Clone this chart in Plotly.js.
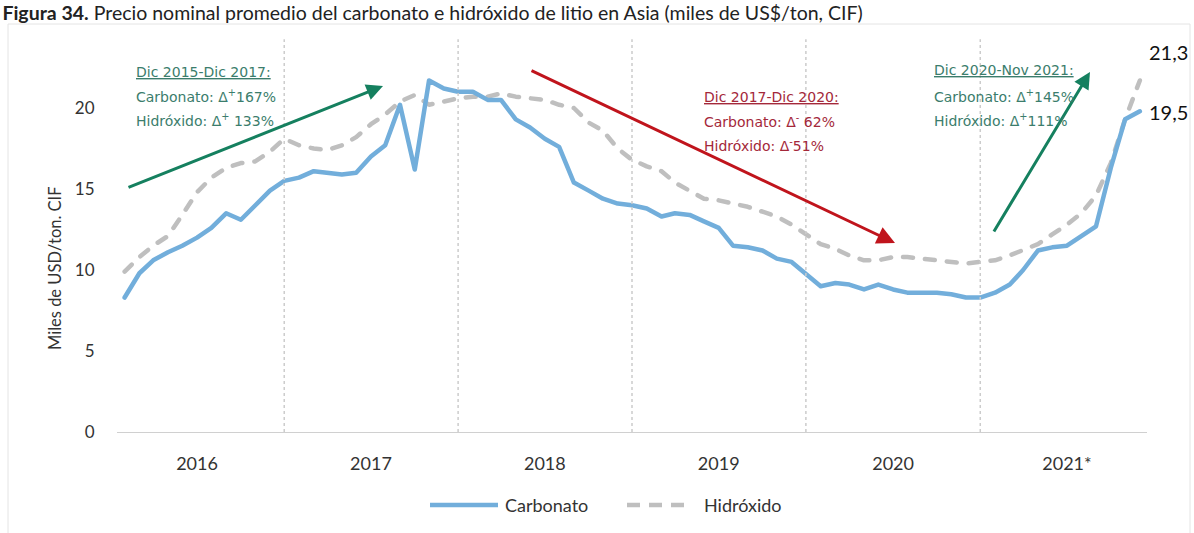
<!DOCTYPE html>
<html>
<head>
<meta charset="utf-8">
<script src="https://cdn.plot.ly/plotly-3.0.1.min.js"></script>
<style>
  html, body { margin: 0; padding: 0; background: #ffffff; }
  #chart { width: 1194px; height: 533px; }
  .scatterlayer .js-line { stroke-linecap: round; stroke-linejoin: round; }
  .shapelayer path.legend-like { stroke-linecap: round; }
</style>
</head>
<body>
<div id="chart"></div>
<script>
// ---- Data ----
// Monthly observations, Jan 2016 .. Nov 2021
const startYear = 2016;
const nMonths = 71;
const meses = [];
for (let i = 0; i < nMonths; i++) {
  const y = startYear + Math.floor(i / 12);
  const m = (i % 12) + 1;
  meses.push(y + '-' + String(m).padStart(2, '0') + '-01');
}

const carbonato = [
  8.3, 9.8, 10.6, 11.1, 11.5, 12.0, 12.6, 13.5, 13.1, 14.0, 14.9, 15.5,
  15.7, 16.1, 16.0, 15.9, 16.0, 17.0, 17.7, 20.2, 16.2, 21.7, 21.2, 21.0,
  21.0, 20.5, 20.5, 19.3, 18.8, 18.1, 17.6, 15.4, 14.9, 14.4, 14.1, 14.0,
  13.8, 13.3, 13.5, 13.4, 13.0, 12.6, 11.5, 11.4, 11.2, 10.7, 10.5, 9.8,
  9.0, 9.2, 9.1, 8.8, 9.1, 8.8, 8.6, 8.6, 8.6, 8.5, 8.3, 8.3,
  8.6, 9.1, 10.0, 11.2, 11.4, 11.5, 12.1, 12.7, 16.3, 19.3, 19.8
];

const hidroxido = [
  9.9, 10.8, 11.5, 12.1, 13.4, 14.8, 15.7, 16.3, 16.6, 16.7, 17.3, 18.1,
  17.7, 17.5, 17.4, 17.7, 18.2, 19.0, 19.6, 20.4, 20.8, 20.2, 20.4, 20.6,
  20.7, 20.7, 20.9, 20.7, 20.6, 20.5, 20.2, 20.0, 19.1, 18.6, 17.5, 16.8,
  16.4, 16.1, 15.4, 14.9, 14.4, 14.3, 14.1, 13.9, 13.6, 13.3, 12.8, 12.2,
  11.6, 11.3, 10.9, 10.6, 10.6, 10.8, 10.8, 10.7, 10.6, 10.5, 10.4, 10.5,
  10.6, 10.9, 11.2, 11.6, 12.2, 12.8, 13.5, 14.6, 16.6, 19.3, 21.7
];

const seriesNames = ['Carbonato', 'Hidróxido'];
const yearTickVals = ['2016-06-01', '2017-06-01', '2018-06-01', '2019-06-01', '2020-06-01', '2021-06-01'];
const yearTickText = ['2016', '2017', '2018', '2019', '2020', '2021*'];
const yearDividers = ['2016-12-01', '2017-12-01', '2018-12-01', '2019-12-01', '2020-12-01'];
const endLabels = ['21,3', '19,5'];

// ---- Layout helpers (pixel -> paper) ----
const W = 1194, H = 533;
const M = { l: 117, r: 47, t: 27, b: 101 };
const PW = W - M.l - M.r, PH = H - M.t - M.b;
const xp = px => (px - M.l) / PW;
const yp = py => (H - M.b - py) / PH;

const blue = '#72aedb';
const gray = '#bfbfbf';
const grayDash = '10px,12px';
const greenTxt = '#3b7d6c';
const greenArr = '#15805f';
const redTxt = '#a4283a';
const redArr = '#c0141c';
const annFont = (c) => ({ family: 'DejaVu Sans, sans-serif', size: 14, color: c });

function txt(text, px, py, color) {
  return { xref: 'paper', yref: 'paper', x: xp(px), y: yp(py), xanchor: 'left', yanchor: 'middle',
           text: text, showarrow: false, font: annFont(color) };
}
function arrow(x0, y0, x1, y1, color, w, size) {
  return { xref: 'paper', yref: 'paper', x: xp(x1), y: yp(y1), axref: 'pixel', ayref: 'pixel',
           ax: x0 - x1, ay: y0 - y1, text: '', showarrow: true, arrowhead: 2, arrowsize: size,
           arrowwidth: w, arrowcolor: color };
}

const traces = [
  {
    x: meses, y: hidroxido, name: seriesNames[1], type: 'scatter', mode: 'lines',
    line: { color: gray, width: 4.5, dash: grayDash }
  },
  {
    x: meses, y: carbonato, name: seriesNames[0], type: 'scatter', mode: 'lines',
    line: { color: blue, width: 4.5 }
  }
];

const shapes = yearDividers.map(d => ({
  type: 'line', xref: 'x', yref: 'paper', x0: d, x1: d, y0: 0, y1: 0.97,
  line: { color: '#cccccc', width: 1.5, dash: 'dot' }
}));
shapes.push({
  type: 'rect', xref: 'paper', yref: 'paper', x0: xp(8), x1: xp(1190), y0: yp(545), y1: yp(24),
  line: { color: '#e4e4e4', width: 1 }, layer: 'below'
});
// legend keys
shapes.push({ type: 'line', xref: 'paper', yref: 'paper', x0: xp(430), x1: xp(498), y0: yp(505), y1: yp(505),
  line: { color: blue, width: 4.5 } });
shapes.push({ type: 'line', xref: 'paper', yref: 'paper', x0: xp(627), x1: xp(690), y0: yp(505), y1: yp(505),
  line: { color: gray, width: 4.5, dash: '13px,9px' } });

const legFont = { family: 'Lato, sans-serif', size: 18, color: '#333' };
const annotations = [
  arrow(127, 188, 383, 86, greenArr, 3, 1.1),
  arrow(530, 70, 895, 243, redArr, 3, 1.2),
  arrow(993, 233, 1090, 72, greenArr, 3, 1.1),
  txt('<u>Dic 2015-Dic 2017:</u>', 134, 72, greenTxt),
  txt('Carbonato: Δ<sup>+</sup>167%', 134, 96, greenTxt),
  txt('Hidróxido: Δ<sup>+</sup> 133%', 134, 120, greenTxt),
  txt('<u>Dic 2017-Dic 2020:</u>', 702, 97, redTxt),
  txt('Carbonato: Δ<sup>-</sup> 62%', 702, 121, redTxt),
  txt('Hidróxido: Δ<sup>-</sup>51%', 702, 145, redTxt),
  txt('<u>Dic 2020-Nov 2021:</u>', 932, 70, greenTxt),
  txt('Carbonato: Δ<sup>+</sup>145%', 932, 96, greenTxt),
  txt('Hidróxido: Δ<sup>+</sup>111%', 932, 120, greenTxt),
  { xref: 'paper', yref: 'paper', x: xp(1168), y: yp(52), text: endLabels[0], showarrow: false,
    xanchor: 'center', yanchor: 'middle', font: { family: 'Lato, sans-serif', size: 20, color: '#111' } },
  { xref: 'paper', yref: 'paper', x: xp(1168), y: yp(112), text: endLabels[1], showarrow: false,
    xanchor: 'center', yanchor: 'middle', font: { family: 'Lato, sans-serif', size: 20, color: '#111' } },
  { xref: 'paper', yref: 'paper', x: xp(55), y: yp(268), text: 'Miles de USD/ton. CIF', showarrow: false,
    textangle: -90, xanchor: 'center', yanchor: 'middle', font: { family: 'Lato, sans-serif', size: 16.5, color: '#333' } },
  { xref: 'paper', yref: 'paper', x: xp(503), y: yp(505), text: seriesNames[0], showarrow: false,
    xanchor: 'left', yanchor: 'middle', font: legFont },
  { xref: 'paper', yref: 'paper', x: xp(702), y: yp(505), text: seriesNames[1], showarrow: false,
    xanchor: 'left', yanchor: 'middle', font: legFont }
];

const layout = {
  width: W, height: H,
  margin: M,
  paper_bgcolor: '#ffffff', plot_bgcolor: '#ffffff',
  font: { family: 'Lato, sans-serif', color: '#333333' },
  title: {
    text: '<b>Figura 34.</b> Precio nominal promedio del carbonato e hidróxido de litio en Asia (miles de US$/ton, CIF)',
    font: { family: 'Lato, sans-serif', size: 19.5, color: '#222' },
    xref: 'container', yref: 'container', x: 0.002, xanchor: 'left', y: 1 - 13 / H, yanchor: 'middle'
  },
  showlegend: false,
  xaxis: {
    type: 'date',
    range: ['2015-12-16', '2021-11-16'],
    tickvals: yearTickVals, ticktext: yearTickText,
    ticks: 'outside', ticklen: 15, tickcolor: 'rgba(0,0,0,0)',
    tickfont: { family: 'Lato, sans-serif', size: 18, color: '#333' },
    showgrid: false, zeroline: false,
    showline: true, linecolor: '#d0d0d0', linewidth: 1
  },
  yaxis: {
    range: [0, 25],
    tickvals: [0, 5, 10, 15, 20],
    ticks: 'outside', ticklen: 18, tickcolor: 'rgba(0,0,0,0)',
    tickfont: { family: 'Lato, sans-serif', size: 17, color: '#333' },
    showgrid: false, zeroline: false, showline: false
  },
  shapes: shapes,
  annotations: annotations
};

Plotly.newPlot('chart', traces, layout, { staticPlot: true, displayModeBar: false });
</script>
</body>
</html>
